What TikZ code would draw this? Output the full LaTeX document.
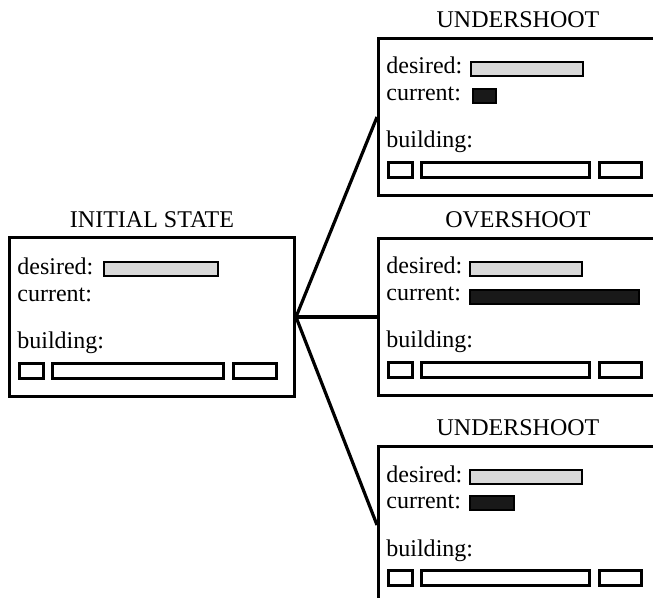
\documentclass[tikz,border=0pt]{standalone}
\usepackage{fontspec}
\setmainfont{Liberation Serif}
\usetikzlibrary{positioning}
\tikzset{
  frame/.style={rectangle, draw=black, line width=1.5pt, inner sep=0pt,
                minimum width=#1, minimum height=78.5pt, anchor=north west},
  frame/.default=139.5pt,
  title/.style={inner sep=0pt},
  lbl/.style={inner sep=0pt, anchor=base west},
  bar/.style={rectangle, draw=black, line width=1.2pt, inner sep=0pt,
              minimum width=#1, minimum height=7pt, anchor=north west},
  wantbar/.style={bar=#1, fill=gray!30},
  nowbar/.style={bar=#1, fill=black!90},
  slot/.style={bar=#1, line width=1.3pt, minimum height=7.5pt, fill=white},
  link/.style={line width=1.6pt},
}

\begin{document}
\begin{tikzpicture}[x=0.5pt, y=-0.5pt, font=\fontsize{12}{14}\selectfont]
\useasboundingbox (0,0) rectangle (653,598);
\clip (0,0) rectangle (653,598);

% -- initial state ---------------------------------------------------------
\node[frame=142.5pt, minimum height=79.5pt] (init) at (8,236) {};
\node[title, above=4pt of init] (initT) {INITIAL STATE};
\node[lbl] (initD) at ([shift={(9,39)}]init.north west) {desired:};
\node[wantbar=57pt] (initDb) at ([shift={(95,25)}]init.north west) {};
\node[lbl] (initC) at ([shift={(9,66)}]init.north west) {current:};
\node[lbl] (initB) at ([shift={(9,113)}]init.north west) {building:};
\node[slot=12pt] (initS1) at ([shift={(10,126)}]init.north west) {};
\node[slot=85.5pt] (initS2) at ([shift={(43,126)}]init.north west) {};
\node[slot=21.5pt] (initS3) at ([shift={(224,126)}]init.north west) {};

% -- undershoot (top) ------------------------------------------------------
\node[frame] (undA) at (377,37) {};
\node[title, above=4.5pt of undA] (undAT) {UNDERSHOOT};
\node[lbl] (undAD) at ([shift={(9,37)}]undA.north west) {desired:};
\node[wantbar=56pt] (undADb) at ([shift={(93,24)}]undA.north west) {};
\node[lbl] (undAC) at ([shift={(9,64)}]undA.north west) {current:};
\node[nowbar=11.5pt] (undACb) at ([shift={(95,51)}]undA.north west) {};
\node[lbl] (undAB) at ([shift={(9,111)}]undA.north west) {building:};
\node[slot=12pt] (undAS1) at ([shift={(10,124)}]undA.north west) {};
\node[slot=84pt] (undAS2) at ([shift={(43,124)}]undA.north west) {};
\node[slot=21pt] (undAS3) at ([shift={(221,124)}]undA.north west) {};

% -- overshoot -------------------------------------------------------------
\node[frame] (over) at (377,237) {};
\node[title, above=4.5pt of over] (overT) {OVERSHOOT};
\node[lbl] (overD) at ([shift={(9,37)}]over.north west) {desired:};
\node[wantbar=56pt] (overDb) at ([shift={(92,24)}]over.north west) {};
\node[lbl] (overC) at ([shift={(9,64)}]over.north west) {current:};
\node[nowbar=84.5pt] (overCb) at ([shift={(92,52)}]over.north west) {};
\node[lbl] (overB) at ([shift={(9,111)}]over.north west) {building:};
\node[slot=12pt] (overS1) at ([shift={(10,124)}]over.north west) {};
\node[slot=84pt] (overS2) at ([shift={(43,124)}]over.north west) {};
\node[slot=21pt] (overS3) at ([shift={(221,124)}]over.north west) {};

% -- undershoot (bottom) ---------------------------------------------------
\node[frame] (undB) at (377,445) {};
\node[title, above=4.5pt of undB] (undBT) {UNDERSHOOT};
\node[lbl] (undBD) at ([shift={(9,37)}]undB.north west) {desired:};
\node[wantbar=56pt] (undBDb) at ([shift={(92,24)}]undB.north west) {};
\node[lbl] (undBC) at ([shift={(9,64)}]undB.north west) {current:};
\node[nowbar=22pt] (undBCb) at ([shift={(92,50)}]undB.north west) {};
\node[lbl] (undBB) at ([shift={(9,111)}]undB.north west) {building:};
\node[slot=12pt] (undBS1) at ([shift={(10,124)}]undB.north west) {};
\node[slot=84pt] (undBS2) at ([shift={(43,124)}]undB.north west) {};
\node[slot=21pt] (undBS3) at ([shift={(221,124)}]undB.north west) {};

% -- branches --------------------------------------------------------------
\draw[link] (init.east) -- (undA.west);
\draw[link] (init.east) -- (init.east -| over.west);
\draw[link] (init.east) -- (undB.west);

\end{tikzpicture}
\end{document}
